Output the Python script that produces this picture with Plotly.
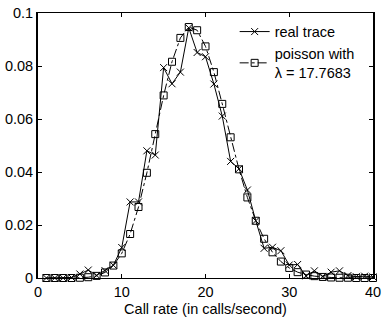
import plotly.graph_objects as go

call_rate = list(range(1, 41))
real_trace = [0.0, 0.0, 0.0, 0.0002, 0.0015, 0.003, 0.001, 0.0028, 0.0048, 0.0115,
              0.0287, 0.0287, 0.048, 0.0464, 0.0794, 0.0733, 0.0777, 0.0944, 0.0851, 0.0835,
              0.0732, 0.0611, 0.044, 0.0412, 0.0332, 0.0216, 0.0112, 0.0116, 0.0103, 0.0049,
              0.0051, 0.0008, 0.0027, 0.0006, 0.0022, 0.0027, 0.0009, 0.0005, 0.0007, 0.0004]
poisson = [0.0, 0.0, 0.0, 0.0, 0.0001, 0.0003, 0.0008, 0.0021, 0.0047, 0.0093,
           0.0166, 0.0268, 0.0397, 0.0543, 0.0689, 0.0816, 0.0906, 0.0947, 0.0935, 0.0874,
           0.0777, 0.0657, 0.0531, 0.0410, 0.0304, 0.0216, 0.0148, 0.0097, 0.0062, 0.0038,
           0.0022, 0.0013, 0.0007, 0.0004, 0.0002, 0.0001, 0.0001, 0.0, 0.0, 0.0]
x_ticks = [0, 10, 20, 30, 40]
y_ticks = [0, 0.02, 0.04, 0.06, 0.08, 0.1]
y_tick_labels = ["0", "0.02", "0.04", "0.06", "0.08", "0.1"]

FONT = "Liberation Sans, Arial, Helvetica, sans-serif"
FS = 14.5

fig = go.Figure()
fig.add_trace(go.Scatter(
    x=call_rate, y=real_trace, mode="lines+markers", name="real trace",
    line=dict(color="black", width=1),
    marker=dict(symbol="x-thin-open", size=7, color="black", line=dict(width=1, color="black")),
    cliponaxis=False,
))
fig.add_trace(go.Scatter(
    x=call_rate, y=poisson, mode="lines+markers", name="poisson with<br>λ = 17.7683",
    line=dict(color="black", width=1, dash="dashdot"),
    marker=dict(symbol="square-open", size=7, color="black", line=dict(width=1, color="black")),
    cliponaxis=False,
))

fig.update_layout(
    width=386, height=320,
    margin=dict(l=38, r=5, t=8, b=42),
    paper_bgcolor="white", plot_bgcolor="white",
    font=dict(family=FONT, size=FS, color="black"),
    showlegend=True,
    legend=dict(x=0.587, y=0.99, xanchor="left", yanchor="top",
                bgcolor="rgba(0,0,0,0)", borderwidth=0,
                font=dict(family=FONT, size=FS), tracegroupgap=0, itemwidth=30),
    xaxis=dict(range=[0, 40], tickvals=x_ticks, ticks="inside", ticklen=4,
               showline=True, linecolor="black", linewidth=1.3, mirror="ticks",
               showgrid=False, zeroline=False, tickcolor="black",
               ticklabeloverflow="allow",
               tickfont=dict(family=FONT, size=FS),
               title=dict(text="Call rate (in calls/second)", standoff=5,
                          font=dict(family=FONT, size=FS))),
    yaxis=dict(range=[0, 0.1], tickvals=y_ticks, ticktext=y_tick_labels,
               ticks="inside", ticklen=4,
               showline=True, linecolor="black", linewidth=1.8, mirror="ticks",
               showgrid=False, zeroline=False, tickcolor="black",
               ticklabeloverflow="allow",
               tickfont=dict(family=FONT, size=FS)),
)

fig.write_html("out.html")
